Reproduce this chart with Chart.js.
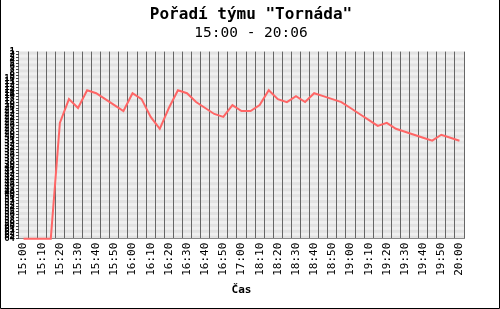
<!DOCTYPE html>
<html>
<head>
<meta charset="utf-8">
<script src="https://cdn.jsdelivr.net/npm/chart.js@4/dist/chart.umd.min.js"></script>
<style>
  html, body { margin: 0; padding: 0; background: #fff; }
  #wrap { width: 500px; height: 309px; }
</style>
</head>
<body>
<div id="wrap"><canvas id="rank" width="500" height="309"></canvas></div>
<script>
const times = ['15:00','15:05','15:10','15:15','15:20','15:25','15:30','15:35','15:40','15:45',
  '15:50','15:55','16:00','16:05','16:10','16:15','16:20','16:25','16:30','16:35',
  '16:40','16:45','16:50','16:55','17:00','18:05','18:10','18:15','18:20','18:25',
  '18:30','18:35','18:40','18:45','18:50','18:55','19:00','19:05','19:10','19:15',
  '19:20','19:25','19:30','19:35','19:40','19:45','19:50','19:55','20:00'];
const ranks = [64,64,64,64,25,17,20,14,15,17,
  19,21,15,17,23,27,20,14,15,18,
  20,22,23,19,21,21,19,14,17,18,
  16,18,15,16,17,18,20,22,24,26,
  25,27,28,29,30,31,29,30,31];
const rankMin = 1;
const rankMax = 64;

const mono = "'DejaVu Sans Mono', monospace";
const ctx = document.getElementById('rank').getContext('2d');

// striped plot background + outer frame
const decor = {
    id: 'decor',
    beforeDraw(chart) {
        const c = chart.ctx, a = chart.chartArea, y = chart.scales.y;
        c.save();
        c.fillStyle = '#f0f0f0';
        c.fillRect(a.left, a.top, a.right - a.left, a.bottom - a.top);
        c.fillStyle = '#e2e2e2';
        for (let v = rankMin; v < rankMax; v += 2) {
            const p1 = y.getPixelForValue(v), p2 = y.getPixelForValue(v + 1);
            c.fillRect(a.left, Math.min(p1, p2), a.right - a.left, Math.abs(p2 - p1));
        }
        c.restore();
    },
    afterDraw(chart) {
        const c = chart.ctx;
        c.save();
        c.strokeStyle = '#000';
        c.lineWidth = 1;
        c.beginPath();
        c.moveTo(0.5, 0); c.lineTo(0.5, 308.5); c.lineTo(499.5, 308.5); c.lineTo(499.5, 0);
        c.stroke();
        c.restore();
    }
};

const Rank = new Chart(ctx, {
    type: 'line',
    data: {
        labels: times,
        datasets: [{
            data: ranks,
            borderColor: '#ff6666',
            borderWidth: 2,
            pointRadius: 0,
            tension: 0,
            clip: false,
        }]
    },
    options: {
        responsive: false,
        animation: false,
        layout: { padding: { left: 2, right: 0, top: 0, bottom: 12 } },
        plugins: {
            legend: { display: false },
            tooltip: { enabled: false },
            title: {
                display: true,
                text: 'Pořadí týmu "Tornáda"',
                color: '#000',
                font: { family: mono, size: 16, weight: 'bold' },
                padding: { top: 5, bottom: 0 }
            },
            subtitle: {
                display: true,
                text: '15:00 - 20:06',
                color: '#000',
                font: { family: mono, size: 14.5 },
                padding: { top: 0, bottom: 10 }
            }
        },
        scales: {
            x: {
                offset: true,
                grid: { offset: true, color: '#666', drawTicks: false },
                border: { color: '#888' },
                ticks: {
                    autoSkip: false,
                    maxRotation: 90,
                    minRotation: 90,
                    padding: 4,
                    color: '#000',
                    font: { family: mono, size: 11 },
                    callback: function (val, i) { return i % 2 === 0 ? this.getLabelForValue(val) : ''; }
                },
                title: {
                    display: true,
                    text: 'Čas',
                    color: '#000',
                    font: { family: mono, size: 11, weight: 'bold' },
                    padding: { top: 4, bottom: 0 }
                }
            },
            y: {
                reverse: true,
                min: rankMin,
                max: rankMax,
                afterFit: s => { s.width = 17; },
                grid: { drawOnChartArea: false, tickLength: 3, color: '#444' },
                border: { display: false },
                ticks: {
                    stepSize: 1,
                    autoSkip: false,
                    padding: 1,
                    color: '#000',
                    font: { family: mono, size: 9, weight: 'bold' }
                }
            },
            // empty right margin so the titles stay centred on the whole image
            margin: {
                position: 'right',
                afterFit: s => { s.width = 36; },
                grid: { display: false },
                border: { display: false },
                ticks: { display: false }
            }
        }
    },
    plugins: [decor]
});
</script>
</body>
</html>
